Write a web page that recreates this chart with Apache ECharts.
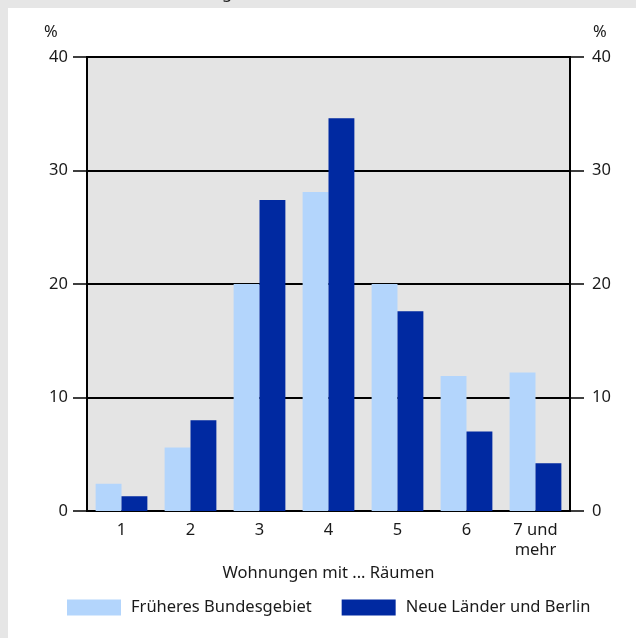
<!DOCTYPE html>
<html>
<head>
<meta charset="utf-8">
<script src="https://cdn.jsdelivr.net/npm/echarts@6/dist/echarts.min.js"></script>
<style>html,body{margin:0;padding:0;background:#e6e6e6;}#c{width:636px;height:638px;}</style>
</head>
<body>
<div id="c"></div>
<script>
const categories = ['1', '2', '3', '4', '5', '6', '7 und\nmehr'];
const seriesNames = ['Früheres Bundesgebiet', 'Neue Länder und Berlin'];
const westValues = [2.4, 5.6, 20.0, 28.1, 20.0, 11.9, 12.2];
const eastValues = [1.3, 8.0, 27.4, 34.6, 17.6, 7.0, 4.2];
const yTicks = { min: 0, max: 40, interval: 10 };
const axisTitle = 'Wohnungen mit ... Räumen';
const unitLabel = '%';

const FONT = 'Noto Sans';
const txt = '#1a1a1a';
const FS = 16.5;
const chart = echarts.init(document.getElementById('c'));
const yAxisBase = {
  type: 'value', min: yTicks.min, max: yTicks.max, interval: yTicks.interval,
  axisLine: { show: true, lineStyle: { color: '#000', width: 2 } },
  axisTick: { show: true, inside: false, length: 14, lineStyle: { color: '#000', width: 1.5 } },
  splitLine: { show: true, lineStyle: { color: '#000', width: 2 } }
};
chart.setOption({
  backgroundColor: '#e6e6e6',
  animation: false,
  graphic: [
    { type: 'text', left: 222, top: -15, z: 0, style: { text: 'g', fontFamily: FONT, fontSize: FS, fill: txt } },
    { type: 'rect', shape: { x: 8, y: 8, width: 628, height: 630 }, style: { fill: '#ffffff' }, z: -10, silent: true },
    { type: 'text', left: 44, top: 24, style: { text: unitLabel, fontFamily: FONT, fontSize: FS, fill: txt } },
    { type: 'text', left: 593, top: 24, style: { text: unitLabel, fontFamily: FONT, fontSize: FS, fill: txt } }
  ],
  grid: { left: 87, right: 66, top: 57, bottom: 127, show: true, backgroundColor: '#e4e4e4', borderColor: '#000', borderWidth: 2 },
  legend: {
    left: 62, top: 594, itemWidth: 54, itemHeight: 16, itemGap: 30,
    icon: 'rect',
    textStyle: { color: txt, fontFamily: FONT, fontSize: FS, padding: [0, 0, 0, 5] },
    data: seriesNames
  },
  xAxis: {
    type: 'category', data: categories,
    axisLine: { show: true, lineStyle: { color: '#000', width: 2 } },
    axisTick: { show: false },
    axisLabel: { color: txt, fontFamily: FONT, fontSize: FS, margin: 9, lineHeight: 20 },
    name: axisTitle, nameLocation: 'middle', nameGap: 47,
    nameTextStyle: { color: txt, fontFamily: FONT, fontSize: FS }
  },
  yAxis: [
    Object.assign({}, yAxisBase, { position: 'left', axisLabel: { color: txt, fontFamily: FONT, fontSize: FS, margin: 19 } }),
    Object.assign({}, yAxisBase, { position: 'right', splitLine: { show: false }, axisLabel: { color: txt, fontFamily: FONT, fontSize: FS, margin: 22 } })
  ],
  series: [
    { name: seriesNames[0], type: 'bar', data: westValues, itemStyle: { color: '#b3d5fc' }, barGap: '0%', barCategoryGap: '25%' },
    { name: seriesNames[1], type: 'bar', data: eastValues, itemStyle: { color: '#0029a1' }, barGap: '0%', barCategoryGap: '25%' }
  ]
});
</script>
</body>
</html>
